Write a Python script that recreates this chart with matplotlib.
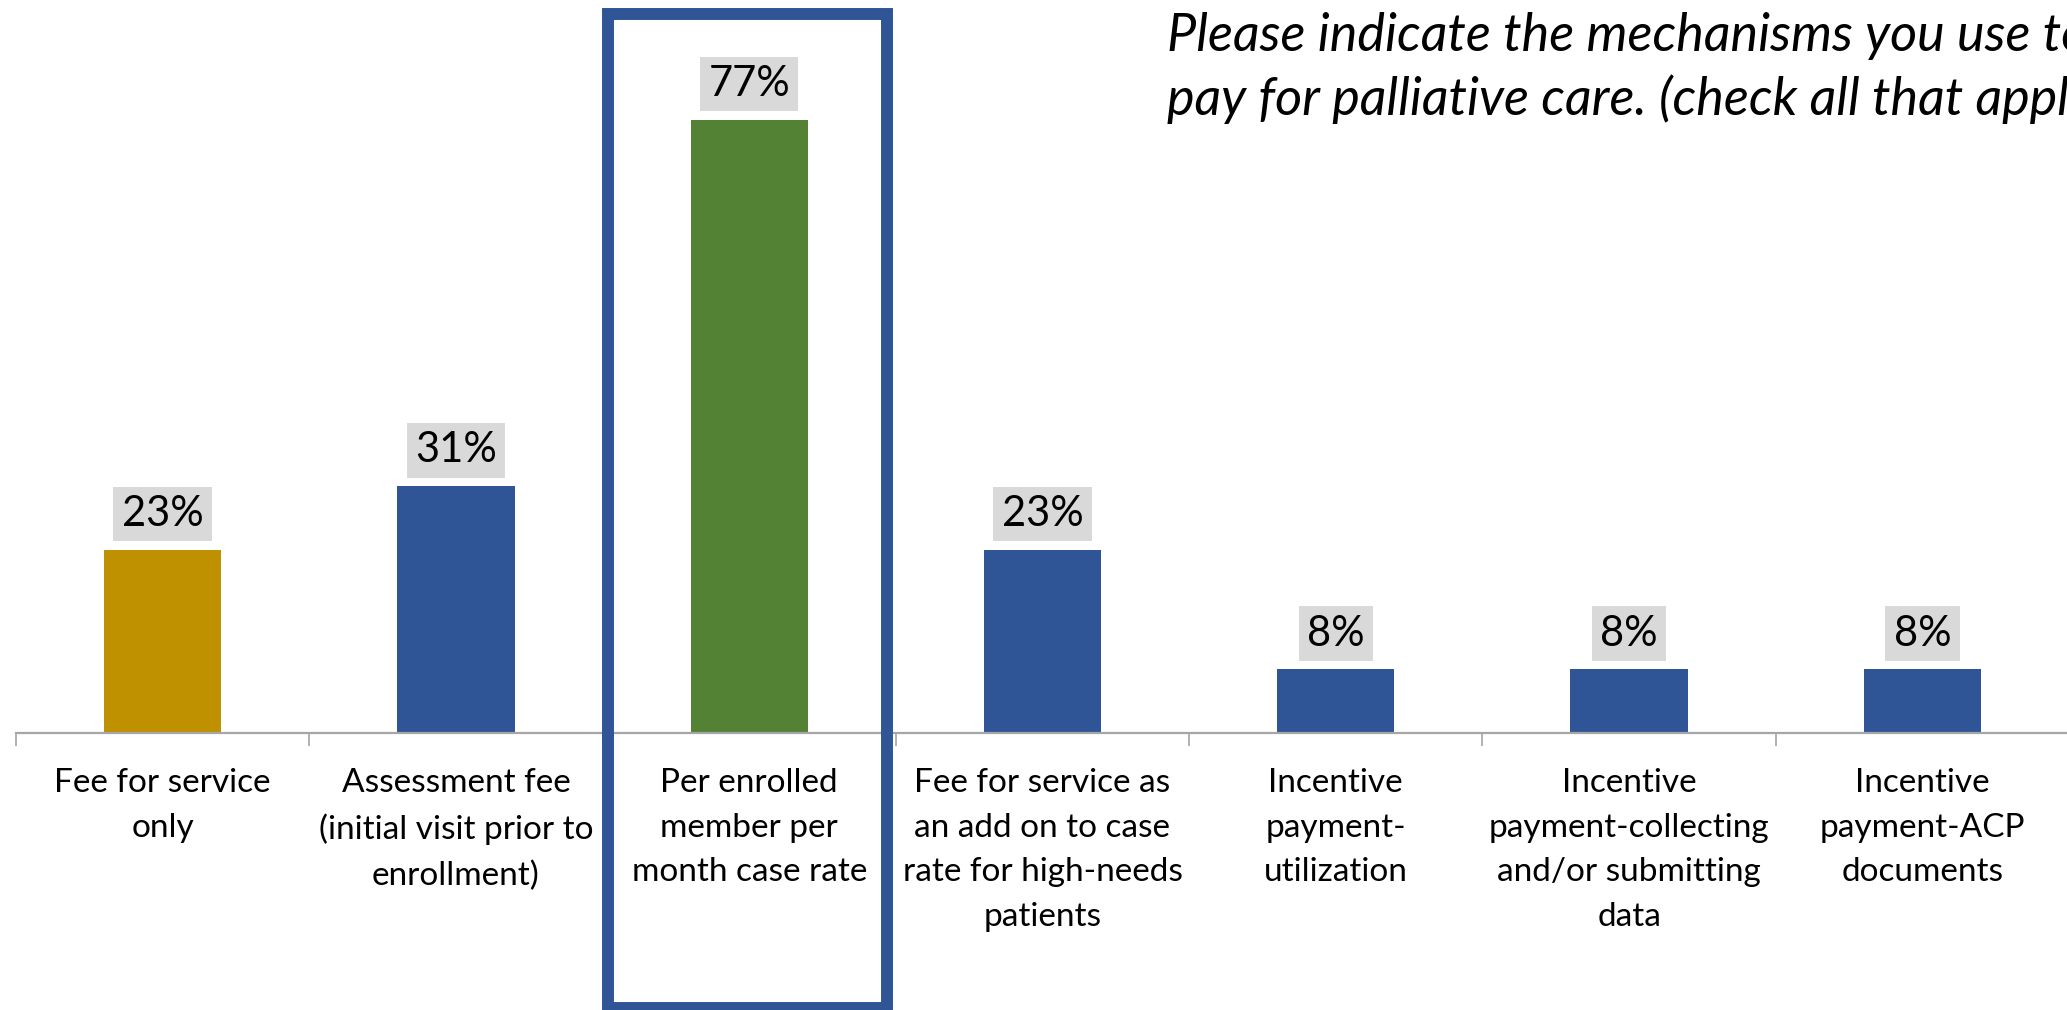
import numpy as np
import matplotlib
matplotlib.use("Agg")
import matplotlib.pyplot as plt
from matplotlib.patches import Rectangle

plt.rcParams['font.family'] = ['Lato', 'DejaVu Sans']

# survey responses, percent of respondents
categories = [
    "Fee for service\nonly",
    "Assessment fee\n(initial visit prior to\nenrollment)",
    "Per enrolled\nmember per\nmonth case rate",
    "Fee for service as\nan add on to case\nrate for high-needs\npatients",
    "Incentive\npayment-\nutilization",
    "Incentive\npayment-collecting\nand/or submitting\ndata",
    "Incentive\npayment-ACP\ndocuments",
]
values = [23, 31, 77, 23, 8, 8, 8]
bar_colors = ["#BF9000", "#2F5597", "#548235", "#2F5597", "#2F5597", "#2F5597", "#2F5597"]
title = "Please indicate the mechanisms you use to\npay for palliative care. (check all that apply)"

W, H = 2067, 1010
fig = plt.figure(figsize=(W / 100, H / 100), dpi=100)

# axes placed in pixel terms of the figure
left, right, top, base = 16, 2069, 0, 733
ax = fig.add_axes([left / W, 1 - base / H, (right - left) / W, (base - top) / H])

x = np.arange(len(categories))
ax.bar(x, values, width=0.40, color=bar_colors, zorder=2)
ax.set_xlim(-0.5, len(categories) - 0.5)
ax.set_ylim(0, 92)

for s in ["top", "right", "left"]:
    ax.spines[s].set_visible(False)
ax.spines["bottom"].set_color("#A6A6A6")
ax.spines["bottom"].set_linewidth(1.6)
ax.set_yticks([])

# boundary ticks between categories, labels at the centres
ax.set_xticks(np.arange(-0.5, len(categories)), labels=[""] * (len(categories) + 1))
ax.tick_params(axis="x", which="major", length=9, width=1.2, color="#A6A6A6")
ax.set_xticks(x, labels=categories, minor=True)
ax.tick_params(axis="x", which="minor", length=0, pad=25, labelsize=24)
for lbl in ax.get_xticklabels(minor=True):
    lbl.set_linespacing(1.62)

# value labels in grey boxes above the bars
for xi, v in zip(x, values):
    ax.annotate(f"{v}%", (xi, v), xytext=(0, 12), textcoords="offset points",
                ha="center", va="bottom", fontsize=30,
                bbox=dict(boxstyle="square,pad=0.2", fc="#D9D9D9", ec="none"))

# highlight frame around the third category
frame = Rectangle((608 / W, 1 - 1008 / H), (887 - 608) / W, (1008 - 14) / H,
                  transform=fig.transFigure, fill=False, ec="#2F5597",
                  lw=8.6, joinstyle="miter", zorder=5)
fig.patches.append(frame)

fig.text(1167 / W, 1 - 12 / H, title, ha="left", va="top", fontsize=37.5,
         style="italic", linespacing=1.36)

fig.savefig("out.png", dpi=100)
